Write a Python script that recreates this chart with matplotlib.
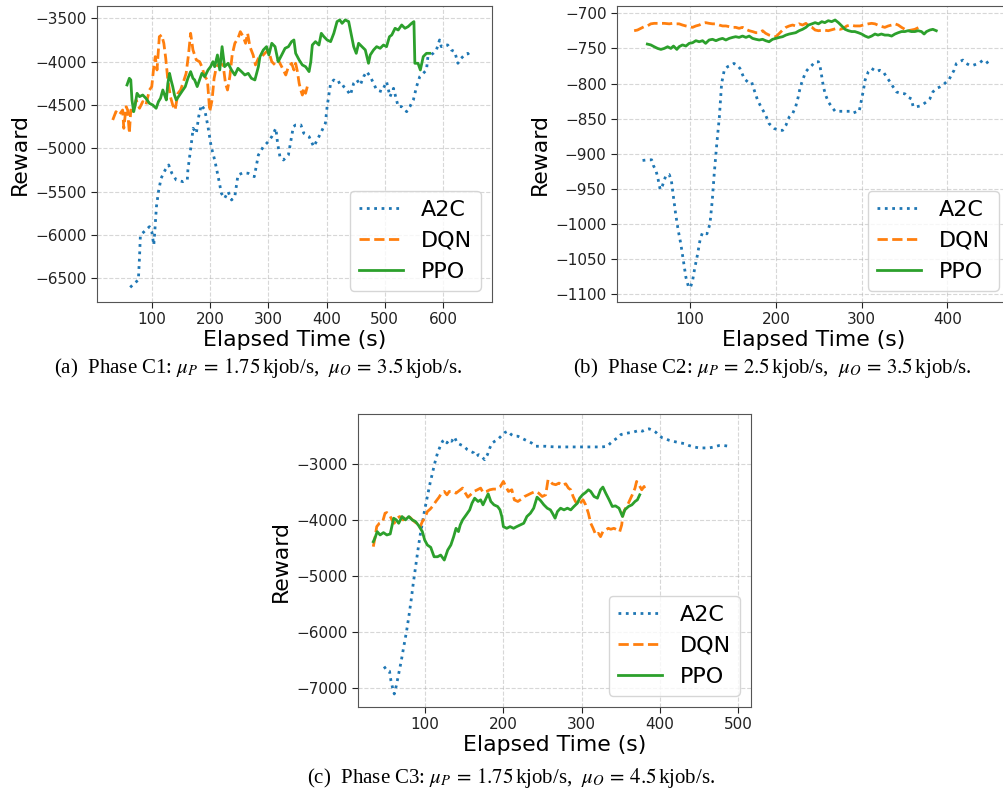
import matplotlib

matplotlib.use("Agg")
import matplotlib.pyplot as plt
import numpy as np

# (elapsed time s, reward) pairs
c1_a2c = [(63, -6604), (70, -6558), (77, -6519), (79, -6250), (80.5, -6000), (87, -5961), (96, -5904),
          (100, -5960), (102, -6050), (103.5, -6115), (105, -5980), (108, -5673), (111.5, -5500), (116, -5346),
          (123, -5250), (129, -5192), (134.5, -5288), (142, -5365), (153.5, -5385), (161, -5365), (162, -5250),
          (168, -4942), (171, -4769), (176.5, -4827), (180.5, -4635), (185, -4500), (191, -4558), (196.5, -4750),
          (202, -4981), (208, -5135), (214, -5327), (219.5, -5519), (225, -5577), (231, -5500), (237, -5596),
          (242.5, -5558), (248, -5308), (257, -5281), (265.5, -5288), (276, -5327), (283, -5077), (291.5, -4981),
          (300, -4923), (306, -4865), (313, -4769), (316, -4942), (320, -5096), (326, -5135), (334.5, -5077),
          (343, -4750), (347, -4731), (356, -4731), (361, -4827), (370, -4865), (378, -4981), (384, -4904),
          (392.6, -4788), (398, -4711), (401, -4519), (407, -4250), (412.5, -4211), (418, -4250), (424, -4231),
          (429.5, -4288), (435, -4327), (441, -4385), (446.6, -4250), (452, -4211), (458, -4269), (463.6, -4173),
          (469, -4115), (475, -4173), (480.7, -4250), (486, -4327), (495, -4346), (503, -4231), (509, -4404),
          (515, -4308), (523, -4519), (529, -4519), (537.5, -4577), (543, -4519), (549, -4442), (554.5, -4288),
          (560, -4173), (566, -4135), (571.5, -4096), (574, -3942), (583, -3904), (588.6, -3865), (594, -3750),
          (597, -3827), (603, -3808), (608, -3808), (614, -3865), (620, -3885), (625.5, -4019), (631, -3962),
          (637, -3923), (642.5, -3904), (648, -3962)]
c1_dqn = [(33, -4673), (38.5, -4577), (44, -4615), (50, -4558), (52, -4769), (56, -4519), (58.6, -4558),
          (61.5, -4827), (64, -4558), (69, -4577), (73, -4442), (79, -4538), (84.5, -4461), (90, -4500),
          (96, -4327), (100, -4288), (103.5, -4058), (106, -3942), (109, -4096), (113, -3712), (117, -3692),
          (120.7, -3788), (124, -3962), (127.6, -4211), (132, -4404), (136, -4500), (140, -4558), (145, -4365),
          (149.5, -4327), (153.5, -4250), (159, -4135), (163, -3923), (166.7, -3673), (170.7, -3865),
          (176.5, -3981), (182, -4000), (186, -4058), (191, -4173), (195.5, -4211), (199.5, -4577), (203.5, -4442),
          (207, -4192), (211, -4058), (216.7, -4019), (222.5, -4038), (226.5, -4250), (230, -4327), (234, -4173),
          (238, -3923), (242.6, -3788), (248, -3731), (252, -3654), (257, -3712), (261, -3788), (264.5, -3673),
          (268.5, -3827), (274, -3923), (278, -4038), (283, -3962), (288.6, -3942), (294, -3904), (300, -3865),
          (306, -4000), (311.6, -4038), (317, -3981), (323, -4058), (330, -4154), (334.6, -4058), (340, -4019),
          (344, -4096), (347, -4019), (350, -4115), (353, -4250), (355.7, -4327), (358.5, -4385), (361, -4308),
          (364, -4365), (367, -4288)]
c1_ppo = [(57.5, -4269), (61.5, -4192), (64, -4211), (66, -4442), (69, -4577), (71, -4519), (74.7, -4365),
          (79, -4404), (84.5, -4385), (90, -4423), (96, -4481), (101.7, -4500), (107.5, -4538), (111.5, -4461),
          (115, -4423), (119, -4327), (122, -4385), (125, -4442), (127.6, -4250), (130.5, -4135), (133, -4211),
          (136, -4288), (139, -4385), (142, -4442), (147.7, -4385), (153.5, -4327), (157.5, -4288), (162, -4192),
          (166.7, -4115), (170.7, -4192), (173.6, -4211), (178, -4288), (182, -4211), (186, -4135), (191, -4173),
          (196.6, -4096), (201, -4058), (205, -4000), (208, -4058), (212.7, -3923), (216.7, -4096), (220.7, -3827),
          (225, -4058), (231, -4019), (236.8, -4096), (242.6, -4154), (248, -4077), (254, -4115), (259.8, -4154),
          (265.6, -4135), (271, -4192), (277, -4211), (283, -4058), (285.7, -3942), (291.5, -3865), (297, -3827),
          (301, -3923), (306, -3788), (311.6, -3827), (317, -4000), (323, -3923), (328.8, -3846), (334.6, -3827),
          (340, -3769), (344, -3750), (347, -3904), (353, -3981), (358.5, -4038), (364, -4058), (370, -4115),
          (373, -4000), (375.6, -3808), (381, -3769), (387, -3808), (391, -3673), (395.5, -3712), (401, -3750),
          (407, -3769), (412.5, -3673), (418, -3538), (422.7, -3519), (426.7, -3558), (432, -3519), (438, -3538),
          (442, -3673), (446.6, -3827), (451, -3904), (455, -3788), (460.8, -3827), (466.5, -3865), (472, -4019),
          (475, -3923), (480.7, -3865), (486, -3827), (492, -3846), (497.7, -3808), (503, -3827), (508, -3712),
          (512, -3692), (517.6, -3615), (523, -3635), (529, -3577), (534.6, -3615), (540, -3596), (546, -3558),
          (550, -3538), (551.6, -4019), (557, -4019), (561, -4096), (566, -3942), (571.5, -3904), (577, -3904)]

c2_a2c = [(44.4, -909.5), (50, -908.6), (55, -908.6), (57, -916.6), (60, -923.8), (62, -933), (65, -951),
          (67.7, -945), (71.6, -931), (75.5, -929.5), (78, -938), (80.5, -962), (83, -985.6), (86, -1009),
          (89, -1028), (92, -1052), (95, -1076), (97.7, -1088), (100, -1091), (102.7, -1081), (105.4, -1062),
          (108.6, -1043), (111.7, -1021), (114.4, -1012), (119.5, -1014), (123, -1000), (125.7, -966.6),
          (128, -928.5), (131, -885.6), (134, -847.6), (136.6, -800), (139.7, -781), (143.6, -776), (147.5, -774),
          (151, -771.4), (155, -774), (158, -778.5), (163, -793), (167, -797.6), (171.6, -797.6), (174.7, -809.5),
          (178.6, -823.8), (182.5, -833), (188, -845), (192, -857), (198, -864), (204, -866.6), (207.8, -866.6),
          (211.6, -859.5), (215.5, -847.6), (219.4, -842.9), (223, -833), (226, -819), (228, -807), (231, -795),
          (235, -783), (238, -778.5), (242, -774), (245.7, -769), (249.6, -769), (251.5, -776), (253.5, -790.5),
          (255.4, -805), (258, -816.6), (261, -826), (265, -833), (269, -839.5), (274.8, -839.5), (280.6, -839.5),
          (286.4, -839.5), (290, -842), (294, -840), (297, -840), (299, -828), (302, -809.5), (304, -795),
          (307.8, -783), (311.6, -778.5), (314.7, -781), (317.4, -783), (321, -781), (325, -783), (329, -790.5),
          (333, -797.6), (336.8, -805), (340.7, -812), (344.6, -813.7), (350.4, -814.6), (354, -819.5),
          (358, -821.7), (360, -833), (364, -833), (367.8, -832), (371.7, -829.5), (375.6, -826), (379.5, -821.7),
          (383, -812), (387, -807), (391, -805), (395, -802), (398.8, -797.6), (401.6, -795), (404.6, -788),
          (407.8, -781), (410.5, -771.4), (414, -769), (418, -766.6), (422, -771.4), (426, -774), (430, -774),
          (433.7, -772.4), (437.6, -770.5), (441.5, -766.6), (445, -767.6), (449, -774), (451, -775)]
c2_dqn = [(34.6, -724.8), (38.5, -723.8), (42.4, -721.4), (46.3, -719), (50, -718), (54, -715), (58, -714.3),
          (63.8, -714.3), (69.7, -714.3), (75.5, -715), (79.4, -714.3), (83, -715), (87, -715), (91, -716.7),
          (94.9, -718), (98.8, -719), (102.7, -720), (106.6, -718), (110.5, -716.7), (114.4, -714.3), (118, -713.3),
          (122, -714.3), (126, -715), (130, -715), (133.8, -716.7), (137.7, -718), (141.6, -718), (145.5, -719),
          (149.4, -720), (153, -720), (157, -721.4), (161, -720), (165, -722.8), (168.8, -724.8), (172.7, -726),
          (176.6, -727.6), (180.5, -727.6), (184.4, -724.8), (188, -728.5), (192, -731), (196, -732.4),
          (200, -733.3), (204, -728.5), (207.8, -723.8), (211.6, -720), (215.5, -718), (219.4, -716.7), (223, -718),
          (227, -715), (231, -716.7), (235, -714.3), (238, -718), (242, -720), (245.7, -723.8), (249.6, -724.8),
          (255.4, -723.8), (261, -724.8), (267, -722.8), (271, -721.4), (274.8, -722.8), (278.7, -721.4),
          (282.6, -718), (286.4, -716.7), (292, -718), (298, -718), (302, -716.7), (307.8, -715), (311.6, -714.3),
          (315.5, -715), (321, -718), (327, -720), (331, -718), (334.9, -716.7), (338.8, -715), (342.6, -716.7),
          (346.5, -720), (350.4, -722.8), (354, -724.8), (358, -723.8), (362, -722.8), (366.7, -720), (369, -719)]
c2_ppo = [(50, -743.8), (54, -745), (58, -747.6), (62, -750), (65.8, -751.4), (69.7, -750), (73.6, -747.6),
          (77.4, -750), (80.5, -746.6), (84.4, -751.4), (87, -747.6), (91, -745), (95, -746.6), (98.8, -742.8),
          (102.7, -741.9), (106.6, -739), (110.5, -740.5), (114.4, -739), (118, -742.8), (122, -738), (126, -737),
          (130, -739), (133.8, -737), (137.7, -735.7), (141.6, -738), (145.5, -735.7), (149.4, -734.3),
          (153, -733.3), (157, -734.3), (161, -732.4), (165, -734.3), (168.8, -732.4), (172.7, -735.7),
          (176.6, -737), (180.5, -738), (184.4, -737), (188, -739), (192, -740.5), (196, -737), (200, -735.7),
          (204, -734.3), (207.8, -733.3), (211.6, -731), (215.5, -729.5), (219.4, -728.5), (223, -727.6),
          (227, -724.8), (231, -722.8), (235, -720), (238, -716.7), (242, -715), (245.7, -713.3), (249.6, -715),
          (253.5, -711.9), (257, -713.3), (261, -710.5), (265, -711.9), (269, -709.5), (272.9, -713.3),
          (276.8, -718), (280.6, -722.8), (284.5, -724.8), (288.4, -726), (292, -726), (296, -727.6),
          (300, -729.5), (304, -732.4), (307.8, -734.3), (311.6, -732.4), (315.5, -729.5), (319, -731),
          (323, -729.5), (327, -731), (331, -731), (334.9, -732.4), (338.8, -729.5), (342.6, -727.6), (346.5, -726),
          (350.4, -726), (354, -724.8), (358, -726), (362, -726), (365.8, -724.8), (369.7, -726), (372.8, -729.5),
          (375.6, -726), (379.5, -723.8), (383, -722.8), (387, -724.8)]

c3_a2c = [(47.8, -6616), (51.3, -6688), (54.7, -6700), (56.5, -6867), (59, -7017), (60.8, -7106), (63.4, -6957),
          (66.4, -6748), (69.4, -6538), (72.8, -6269), (76.3, -6000), (79.3, -5731), (82.3, -5433), (85, -5134),
          (88, -4835), (91, -4536), (93.5, -4297), (96.6, -4058), (99.6, -3819), (103, -3580), (106.5, -3341),
          (109.5, -3161), (112.5, -2982), (116, -2803), (119.4, -2683), (122.4, -2594), (125.4, -2564),
          (128, -2623), (131, -2564), (134, -2594), (137.5, -2516), (141, -2623), (145, -2653), (149.6, -2683),
          (154, -2743), (158, -2773), (162.5, -2803), (165.5, -2863), (168.5, -2833), (172, -2863), (176, -2922),
          (179.7, -2833), (182.7, -2713), (185.8, -2623), (189, -2594), (192.7, -2564), (197, -2504), (201, -2444),
          (205.6, -2414), (210, -2474), (214, -2504), (218.5, -2504), (222.8, -2534), (227, -2564), (231.5, -2594),
          (235.8, -2623), (241, -2683), (247.4, -2683), (254, -2683), (260, -2690), (266.8, -2695), (275, -2695),
          (284, -2695), (292, -2695), (301, -2695), (309, -2695), (318, -2695), (326, -2695), (332.8, -2683),
          (337, -2623), (341, -2576), (345.5, -2534), (350, -2474), (355, -2456), (360, -2444), (365.5, -2432),
          (369.8, -2414), (374, -2396), (377.4, -2414), (381.7, -2384), (386, -2372), (390, -2396), (394.5, -2432),
          (398.7, -2492), (403, -2534), (407, -2552), (411.5, -2576), (416.6, -2594), (422, -2612), (426, -2623),
          (430.6, -2635), (437, -2671), (443, -2695), (450, -2713), (456, -2713), (462.5, -2713), (469, -2695),
          (475, -2671), (481.7, -2671), (488, -2683)]
c3_dqn = [(34, -4476), (36, -4327), (38.4, -4118), (41.8, -4058), (46, -4028), (49, -3879), (51.3, -3867),
          (54.7, -3908), (57.8, -3998), (60.8, -4058), (64.2, -3968), (67.7, -3938), (72, -3998), (76.3, -3926),
          (80.6, -3950), (85, -4010), (89, -4058), (93.5, -4130), (96.6, -4028), (99.6, -3968), (103, -3849),
          (106.5, -3807), (109.5, -3759), (113.8, -3669), (118, -3592), (121, -3520), (124.6, -3490), (128, -3550),
          (131, -3490), (135, -3490), (139.6, -3520), (144, -3472), (148, -3430), (151, -3508), (154.7, -3592),
          (158, -3550), (162.5, -3490), (166.8, -3460), (171, -3430), (174, -3508), (178.4, -3490), (182.7, -3460),
          (187, -3448), (191, -3448), (195.7, -3412), (200, -3311), (203, -3400), (206.5, -3490), (210.8, -3460),
          (214, -3640), (218.5, -3669), (222.8, -3628), (227, -3580), (231.5, -3550), (235.8, -3520), (241, -3490),
          (245, -3520), (249.6, -3580), (254, -3550), (257, -3281), (260, -3311), (262.6, -3353), (266.8, -3370),
          (271, -3341), (275, -3384), (279.6, -3353), (283, -3430), (286, -3460), (289, -3580), (292, -3669),
          (295.7, -3729), (298.7, -3687), (301.7, -3640), (305, -3729), (308.5, -3879), (311.5, -4058),
          (314.5, -4148), (318, -4267), (321.3, -4237), (324, -4297), (327, -4207), (330.6, -4177), (334, -4148),
          (337, -4165), (341, -4148), (345.5, -4177), (348.5, -4207), (351, -4088), (352.8, -3879), (356, -3789),
          (359.6, -3699), (362.5, -3610), (365.5, -3520), (368, -3430), (370, -3311), (373, -3370), (376.6, -3460),
          (379.6, -3400), (381, -3490)]
c3_ppo = [(34, -4387), (36, -4327), (39, -4207), (42.7, -4267), (47, -4225), (51.3, -4267), (55.6, -4249),
          (60, -3968), (63.4, -3998), (66.4, -4058), (70.7, -3938), (75, -3998), (79.3, -3938), (83.6, -3998),
          (88, -4028), (92.2, -4106), (96.6, -4207), (99.6, -4357), (103, -4446), (107.3, -4488), (111.6, -4656),
          (116, -4656), (120, -4626), (124.6, -4715), (129, -4536), (133, -4446), (136.6, -4297), (139.6, -4148),
          (142.7, -4207), (145, -4088), (148, -3998), (152.6, -3908), (157, -3819), (160, -3699), (163.4, -3610),
          (167.7, -3669), (171, -3640), (174, -3729), (177, -3640), (180.6, -3532), (184, -3669), (188, -3729),
          (192.7, -3759), (195.7, -3819), (198, -3938), (200, -4118), (204.3, -4148), (208.6, -4118), (213, -4148),
          (217, -4118), (221.5, -4088), (226, -4058), (230, -3938), (234.5, -3879), (238.7, -3789), (243, -3592),
          (247.4, -3652), (251.7, -3729), (256, -3789), (260, -3819), (262.6, -3879), (266, -3968), (269, -3849),
          (273, -3789), (277.4, -3819), (281.7, -3789), (286, -3819), (290, -3759), (294.5, -3699), (297.4, -3610),
          (301, -3550), (305, -3508), (308.5, -3460), (311.5, -3490), (315.7, -3580), (320, -3610), (324, -3460),
          (327, -3412), (330.6, -3520), (335, -3640), (339, -3759), (343, -3747), (347.6, -3789), (352, -3938),
          (355, -3819), (359.6, -3759), (364, -3729), (368, -3669), (371, -3640), (374, -3550)]

series_labels = ["A2C", "DQN", "PPO"]
captions = [
    r"(a)  Phase C1: $\mu_P\,=\,1.75\,$kjob/s,  $\mu_O\,=\,3.5\,$kjob/s.",
    r"(b)  Phase C2: $\mu_P\,=\,2.5\,$kjob/s,  $\mu_O\,=\,3.5\,$kjob/s.",
    r"(c)  Phase C3: $\mu_P\,=\,1.75\,$kjob/s,  $\mu_O\,=\,4.5\,$kjob/s.",
]

STYLES = [(":", "#1f77b4"), ("--", "#ff7f0e"), ("-", "#2ca02c")]
W, H = 1004, 797


def px_rect(x0, y0, x1, y1):
    return [x0 / W, 1 - y1 / H, (x1 - x0) / W, (y1 - y0) / H]


def draw_panel(fig, rect, data, xlim, ylim, xticks, yticks):
    ax = fig.add_axes(px_rect(*rect))
    for (ls, color), label, pts in zip(STYLES, series_labels, data):
        arr = np.asarray(pts, dtype=float)
        ax.plot(arr[:, 0], arr[:, 1], ls=ls, color=color, lw=2, label=label)
    ax.set_xlim(*xlim)
    ax.set_ylim(*ylim)
    ax.set_xticks(xticks)
    ax.set_yticks(yticks)
    ax.grid(True, linestyle="--", color="#b0b0b0", lw=0.8, alpha=0.5)
    ax.tick_params(labelsize=11, colors="#222222", length=4)
    for sp in ax.spines.values():
        sp.set_color("#555555")
    ax.set_xlabel("Elapsed Time (s)", fontsize=15.8, labelpad=2)
    ax.set_ylabel("Reward", fontsize=15.8)
    ax.legend(loc="lower right", fontsize=16)
    return ax


plt.rcParams["mathtext.fontset"] = "stix"
fig = plt.figure(figsize=(W / 100, H / 100), dpi=100)

draw_panel(fig, (97, 6, 492, 302), [c1_a2c, c1_dqn, c1_ppo], (6, 684), (-6773, -3358),
           range(100, 700, 100), range(-6500, -3000, 500))
draw_panel(fig, (617, 6, 1010, 302), [c2_a2c, c2_dqn, c2_ppo], (14.6, 473), (-1111, -689.6),
           range(100, 500, 100), range(-1100, -650, 50))
draw_panel(fig, (358, 414, 751, 707), [c3_a2c, c3_dqn, c3_ppo], (14.5, 516), (-7339, -2107),
           range(100, 600, 100), range(-7000, -2000, 1000))

for (cx, cy), text in zip([(258, 368), (772, 368), (511, 778)], captions):
    fig.text(cx / W, 1 - cy / H, text, ha="center", va="center", fontsize=15, family="Liberation Serif")

fig.savefig("out.png", dpi=100)
